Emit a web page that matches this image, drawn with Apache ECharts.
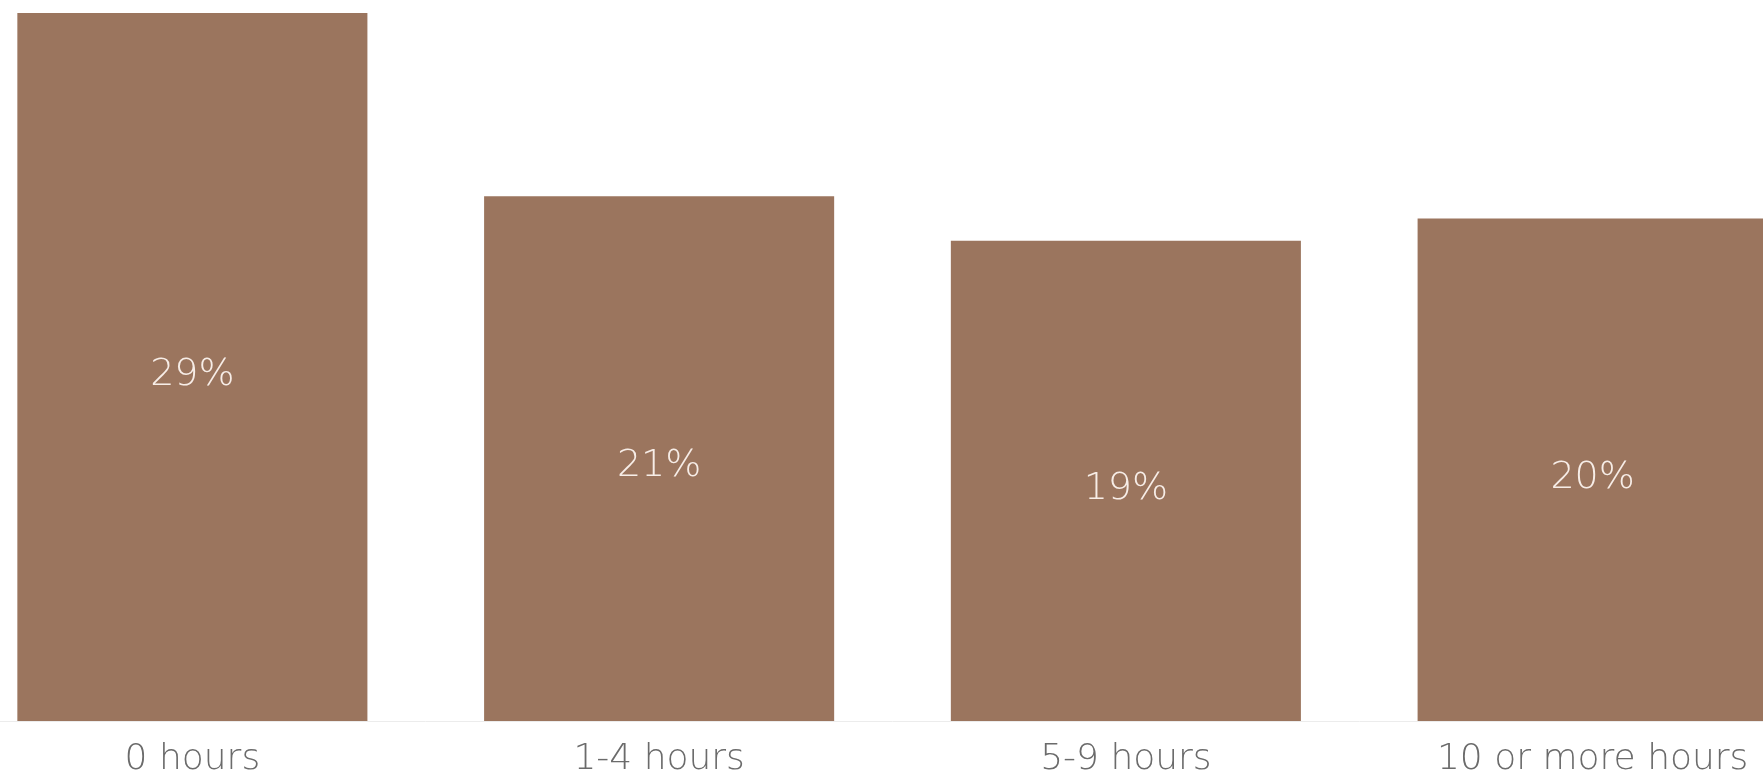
<!DOCTYPE html>
<html>
<head>
<meta charset="utf-8">
<script src="https://cdn.jsdelivr.net/npm/echarts@6/dist/echarts.min.js"></script>
<style>
  html, body { margin: 0; padding: 0; background: #ffffff; overflow: hidden; width: 1763px; height: 778px; }
  /* the plot runs past both window edges, so the chart is wider than the view */
  #chart { position: absolute; left: -41px; top: 0; width: 1867px; height: 778px; }
</style>
</head>
<body>
<div id="chart"></div>
<script>
// Weekly hours groups and the share of respondents in each (percent)
const categories = ['0 hours', '1-4 hours', '5-9 hours', '10 or more hours'];
const shares = [28.6, 21.2, 19.4, 20.3];

const chart = echarts.init(document.getElementById('chart'));
chart.setOption({
  backgroundColor: '#ffffff',
  animation: false,
  grid: { left: 0, right: 0, top: 13, bottom: 55, containLabel: false },
  xAxis: {
    type: 'category',
    data: categories,
    axisLine: { show: true, lineStyle: { color: '#ececec', width: 1 } },
    axisTick: { show: false },
    axisLabel: {
      margin: 21,
      color: '#6b6b6b',
      fontFamily: 'DejaVu Sans',
      fontSize: 36,
      fontWeight: 300
    }
  },
  yAxis: {
    type: 'value',
    min: 0,
    max: 'dataMax',
    show: false,
    splitLine: { show: false }
  },
  series: [{
    type: 'bar',
    data: shares,
    barCategoryGap: '25%',
    itemStyle: { color: '#9b755e' },
    label: {
      show: true,
      position: 'inside',
      offset: [0, 8],
      color: '#f7ede7',
      fontFamily: 'DejaVu Sans',
      fontSize: 38,
      fontWeight: 300,
      formatter: p => Math.round(p.value) + '%'
    }
  }]
});
</script>
</body>
</html>
